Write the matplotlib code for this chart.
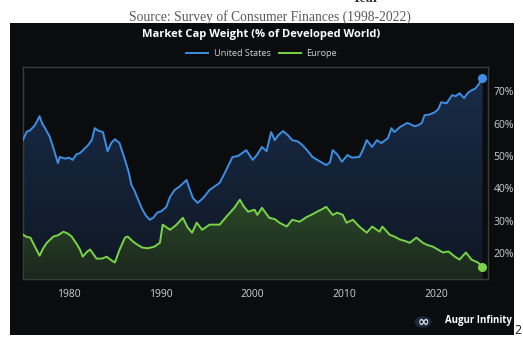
import matplotlib
matplotlib.use("Agg")
import matplotlib.pyplot as plt
import numpy as np
from matplotlib.colors import LinearSegmentedColormap
from matplotlib.patches import Rectangle, Circle
from matplotlib.lines import Line2D

plt.rcParams["font.family"] = ["Open Sans", "DejaVu Sans"]

title = "Market Cap Weight (% of Developed World)"
series_names = ["United States", "Europe"]
x_ticks = [1980, 1990, 2000, 2010, 2020]
y_ticks = [20, 30, 40, 50, 60, 70]

us_years = [1975.0, 1975.4, 1975.8, 1976.3, 1976.8, 1977.1, 1977.4, 1977.9, 1978.3, 1978.8,
            1979.0, 1979.6, 1980.0, 1980.4, 1980.8, 1981.2, 1981.6, 1982.1, 1982.5, 1982.8,
            1983.2, 1983.7, 1984.2, 1984.6, 1985.0, 1985.5, 1986.1, 1986.5, 1986.8, 1987.1,
            1987.4, 1988.0, 1988.4, 1988.8, 1989.2, 1989.6, 1990.1, 1990.6, 1991.0, 1991.5,
            1992.0, 1992.4, 1992.8, 1993.1, 1993.5, 1994.0, 1994.6, 1995.3, 1995.8, 1996.4,
            1997.0, 1997.8, 1998.4, 1999.3, 2000.0, 2000.5, 2001.0, 2001.5, 2002.0, 2002.4,
            2002.8, 2003.3, 2003.8, 2004.3, 2004.9, 2005.4, 2006.0, 2006.5, 2007.2, 2008.0,
            2008.4, 2008.7, 2009.2, 2009.7, 2010.3, 2010.8, 2011.6, 2012.0, 2012.4, 2013.0,
            2013.5, 2014.0, 2014.7, 2015.1, 2015.4, 2016.0, 2016.8, 2017.2, 2017.6, 2018.0,
            2018.4, 2018.7, 2019.2, 2019.8, 2020.2, 2020.5, 2021.1, 2021.7, 2022.1, 2022.5,
            2023.0, 2023.4, 2023.8, 2024.2, 2024.5, 2025.0]
us_vals = [55.0, 57.5, 58.0, 59.5, 62.3, 60.0, 58.6, 56.0, 52.5, 47.8,
           49.7, 49.2, 49.5, 48.8, 50.5, 50.9, 52.0, 53.4, 55.0, 58.6,
           57.8, 57.4, 51.5, 54.0, 55.2, 54.0, 48.8, 45.0, 41.0, 39.5,
           37.4, 33.4, 31.5, 30.3, 31.0, 32.5, 33.0, 34.3, 37.4, 39.5,
           40.5, 41.5, 42.6, 40.0, 37.0, 35.5, 37.0, 39.5, 40.5, 41.7,
           45.0, 49.7, 50.0, 51.8, 48.8, 50.5, 52.8, 51.5, 57.4, 54.9,
           56.5, 57.7, 56.5, 54.9, 54.5, 53.4, 51.5, 49.7, 48.5, 47.2,
           48.0, 51.8, 50.5, 48.2, 50.3, 49.5, 49.7, 52.0, 54.9, 52.8,
           54.9, 54.0, 55.5, 58.6, 57.4, 58.9, 60.2, 59.8, 59.2, 59.5,
           60.2, 62.6, 62.8, 63.5, 64.5, 66.6, 66.3, 68.8, 68.5, 69.4,
           67.9, 69.5, 70.3, 70.8, 71.8, 74.0]

eu_years = [1975.0, 1975.4, 1975.8, 1976.3, 1976.8, 1977.2, 1977.6, 1978.3, 1978.8, 1979.4,
            1979.9, 1980.3, 1980.8, 1981.2, 1981.5, 1982.0, 1982.3, 1983.0, 1983.6, 1984.1,
            1984.6, 1985.0, 1985.5, 1986.1, 1986.4, 1987.0, 1987.5, 1988.0, 1988.6, 1989.3,
            1989.9, 1990.2, 1990.6, 1991.0, 1991.6, 1992.4, 1992.9, 1993.4, 1993.9, 1994.5,
            1995.3, 1996.4, 1997.3, 1998.0, 1998.6, 1999.0, 1999.5, 2000.2, 2000.5, 2001.0,
            2001.8, 2002.4, 2002.9, 2003.7, 2004.3, 2005.1, 2005.9, 2006.5, 2007.0, 2007.5,
            2008.0, 2008.7, 2009.2, 2009.8, 2010.2, 2010.9, 2011.6, 2012.4, 2013.0, 2013.8,
            2014.1, 2014.9, 2015.5, 2016.0, 2016.5, 2017.1, 2017.8, 2018.5, 2019.0, 2019.6,
            2020.2, 2020.7, 2021.3, 2022.0, 2022.5, 2023.2, 2023.8, 2024.5, 2025.0]
eu_vals = [25.7, 25.0, 24.8, 22.0, 19.2, 21.5, 23.2, 25.1, 25.5, 26.6,
           26.0, 25.1, 23.0, 21.1, 18.9, 20.5, 21.1, 18.3, 18.3, 18.9,
           17.8, 17.1, 21.0, 24.8, 25.1, 23.5, 22.5, 21.7, 21.5, 22.0,
           23.2, 28.8, 28.0, 27.2, 28.5, 30.9, 28.0, 26.3, 29.4, 27.2,
           28.8, 28.8, 31.8, 34.0, 36.5, 34.5, 32.8, 33.4, 31.8, 34.0,
           30.9, 30.5, 29.4, 28.2, 30.3, 29.7, 31.2, 32.0, 32.8, 33.5,
           34.3, 31.8, 32.5, 31.8, 29.4, 30.3, 28.2, 26.3, 28.2, 26.6,
           28.2, 25.7, 25.0, 24.2, 23.8, 23.2, 24.8, 23.2, 22.5, 22.0,
           21.0, 20.2, 20.5, 18.9, 18.0, 20.2, 18.0, 17.1, 15.8]

BG = "#0b0c0e"
BLUE = "#3d8fe3"
GREEN = "#79d545"
TXT = "#cfd0d2"

fig = plt.figure(figsize=(5.23, 3.47), dpi=100, facecolor="white")

# dark card behind the chart
fig.patches.append(Rectangle((10 / 523, 1 - 335 / 347), 504 / 523, 312 / 347,
                             transform=fig.transFigure, facecolor=BG, edgecolor="none", zorder=-10))

# text above the card
fig.text(366 / 523, 1.004, "Year", ha="center", va="center", fontsize=10,
         family="Liberation Serif", weight="bold", color="#333333")
fig.text(270 / 523, 1 - 17 / 347, "Source: Survey of Consumer Finances (1998-2022)",
         ha="center", va="center", fontsize=9.8, family="Liberation Serif", color="#5a5a5a")

ax = fig.add_axes([23 / 523, 1 - 279 / 347, 465 / 523, 212 / 347])
ax.set_facecolor(BG)
ax.set_xlim(1975, 2025.6)
ax.set_ylim(12, 77.5)
x0, x1 = ax.get_xlim()
y0, y1 = ax.get_ylim()

blue_cmap = LinearSegmentedColormap.from_list("b", ["#0f1724", "#1a2d4a"])
green_cmap = LinearSegmentedColormap.from_list("g", ["#1b261c", "#2c4a2a"])
grad = np.linspace(0, 1, 256).reshape(-1, 1)

for xs, ys, cmap, top, z in [(us_years, us_vals, blue_cmap, y1, 1), (eu_years, eu_vals, green_cmap, 37, 2)]:
    poly = ax.fill_between(xs, ys, y0, color="none")
    img = ax.imshow(grad, cmap=cmap, origin="lower", aspect="auto",
                    extent=[x0, x1, y0, top], zorder=z)
    img.set_clip_path(poly.get_paths()[0], transform=ax.transData)
ax.set_xlim(x0, x1)
ax.set_ylim(y0, y1)

ax.plot(us_years, us_vals, color=BLUE, lw=1.4, zorder=4)
ax.plot(eu_years, eu_vals, color=GREEN, lw=1.4, zorder=4)
ax.plot(us_years[-1], us_vals[-1], "o", color=BLUE, ms=5.5, zorder=5, clip_on=False)
ax.plot(eu_years[-1], eu_vals[-1], "o", color=GREEN, ms=5.5, zorder=5, clip_on=False)

ax.set_xticks(x_ticks)
ax.set_yticks(y_ticks)
ax.set_yticklabels([f"{v}%" for v in y_ticks])
ax.yaxis.tick_right()
ax.tick_params(length=0, colors=TXT, labelsize=7.5)
ax.tick_params(axis="x", pad=7)
ax.tick_params(axis="y", pad=4)
for s in ax.spines.values():
    s.set_color("#3a3b3f")
    s.set_linewidth(1.0)

fig.text(0.5, 1 - 35 / 347, title, ha="center", va="center", color="white",
         fontsize=8.0, weight="bold")
handles = [Line2D([], [], color=BLUE, lw=1.4), Line2D([], [], color=GREEN, lw=1.4)]
leg = fig.legend(handles, series_names, loc="center", bbox_to_anchor=(0.5, 1 - 54 / 347),
                 ncol=2, frameon=False, fontsize=6.6, handlelength=2.4, columnspacing=0.9,
                 handletextpad=0.6)
for t in leg.get_texts():
    t.set_color(TXT)

# logo
fig.patches.append(Circle((423 / 523, 1 - 322 / 347), 8.5 / 523, transform=fig.transFigure,
                          facecolor="#1b2a3f", edgecolor="none", zorder=3))
fig.text(423 / 523, 1 - 322 / 347, "∞", ha="center", va="center", fontsize=10,
         color="#e0e4ea", weight="bold", family="DejaVu Sans")
fig.text(445 / 523, 1 - 321 / 347, "Augur Infinity", ha="left", va="center", fontsize=6.9,
         color="white", weight="bold")
fig.text(518 / 523, 1 - 330 / 347, "2", ha="center", va="center", fontsize=9, color="#222222")

fig.savefig("out.png", dpi=100, facecolor="white")
